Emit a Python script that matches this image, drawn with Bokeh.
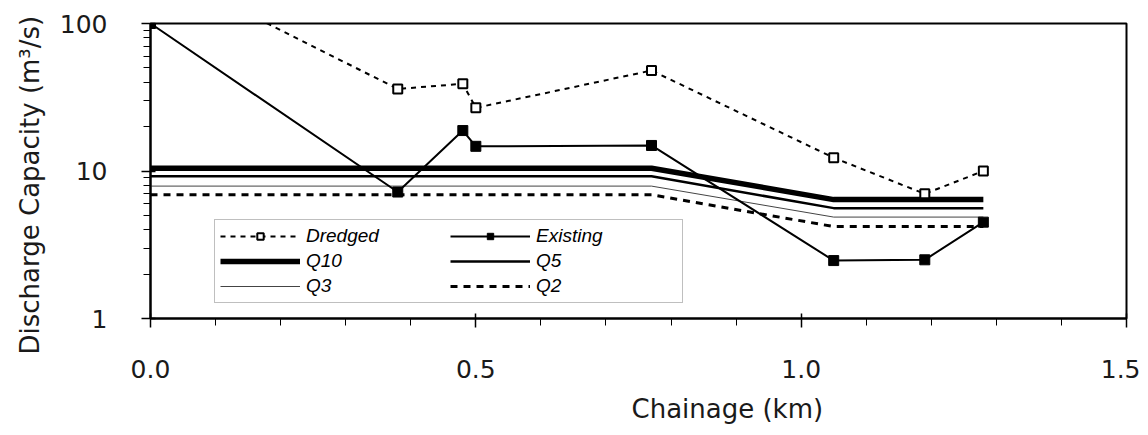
from bokeh.plotting import figure
from bokeh.models import (Legend, LegendItem, FixedTicker, SingleIntervalTicker,
                          NumeralTickFormatter, Range1d, BasicTickFormatter, Title)
from bokeh.embed import file_html
from bokeh.resources import INLINE

# ---- data ----
dredged_x = [0.0, 0.38, 0.48, 0.50, 0.77, 1.05, 1.19, 1.28]
dredged_y = [250, 36.0, 39.0, 26.8, 48.0, 12.3, 7.0, 10.0]

existing_x = [0.0, 0.38, 0.48, 0.50, 0.77, 1.05, 1.19, 1.28]
existing_y = [100, 7.2, 18.8, 14.7, 14.9, 2.47, 2.5, 4.5]

q_x = [0.0, 0.77, 1.05, 1.28]
q10_y = [10.45, 10.45, 6.4, 6.4]
q5_y = [9.2, 9.2, 5.6, 5.6]
q3_y = [7.9, 7.9, 4.87, 4.87]
q2_y = [6.9, 6.9, 4.2, 4.2]

y_ticks = [1, 10, 100]
y_minor = [2, 3, 4, 5, 6, 7, 8, 9, 20, 30, 40, 50, 60, 70, 80, 90]

x_title = "Chainage (km)"
y_title = "Discharge Capacity (m³/s)"

p = figure(width=1140, height=435, output_backend="svg", toolbar_location=None,
           y_axis_type="log", x_range=Range1d(0, 1.5), y_range=Range1d(1, 100),
           min_border_left=148, min_border_top=23, min_border_right=14,
           min_border_bottom=117)
p.background_fill_color = "white"
p.border_fill_color = "white"
p.outline_line_color = "black"
p.outline_line_width = 2
p.xgrid.visible = False
p.ygrid.visible = False

r_q10 = p.line(q_x, q10_y, line_color="black", line_width=5.5)
r_q5 = p.line(q_x, q5_y, line_color="black", line_width=2.5)
r_q3 = p.line(q_x, q3_y, line_color="#444444", line_width=1)
r_q2 = p.line(q_x, q2_y, line_color="black", line_width=3, line_dash="7 6")

r_dl = p.line(dredged_x, dredged_y, line_color="black", line_width=2, line_dash="5 5")
r_ds = p.scatter(dredged_x, dredged_y, marker="square", size=9, line_color="black",
                 line_width=2, fill_color="white")
r_el = p.line(existing_x, existing_y, line_color="black", line_width=2)
r_es = p.scatter(existing_x, existing_y, marker="square", size=10, line_color="black",
                 fill_color="black")

# axes
xa = p.xaxis[0]
xa.ticker = SingleIntervalTicker(interval=0.5, num_minor_ticks=5)
xa.formatter = NumeralTickFormatter(format="0.0")
ya = p.yaxis[0]
ya.ticker = FixedTicker(ticks=y_ticks, minor_ticks=y_minor)
ya.formatter = BasicTickFormatter()

for ax in (xa, ya):
    ax.axis_line_width = 2
    ax.axis_line_color = "black"
    ax.major_tick_line_color = "black"
    ax.minor_tick_line_color = "black"
    ax.major_tick_line_width = 1.5
    ax.minor_tick_line_width = 1
    ax.major_tick_out = 9
    ax.major_tick_in = 5
    ax.minor_tick_out = 7
    ax.minor_tick_in = 0
    ax.major_label_text_font = "DejaVu Sans"
    ax.major_label_text_font_size = "25px"
    ax.major_label_text_color = "#1a1a1a"

xa.major_label_standoff = 32
ya.major_label_standoff = 34

# axis titles (placed off-centre as in the reference)
tx = Title(text=x_title, align="left", offset=481, standoff=23,
           text_font="DejaVu Sans", text_font_size="26px",
           text_font_style="normal", text_color="#1a1a1a")
p.add_layout(tx, "below")
ty = Title(text=y_title, align="left", offset=-36, standoff=24,
           text_font="DejaVu Sans", text_font_size="26px",
           text_font_style="normal", text_color="#1a1a1a")
p.add_layout(ty, "left")

legend = Legend(items=[
    LegendItem(label="Dredged", renderers=[r_dl, r_ds]),
    LegendItem(label="Existing", renderers=[r_el, r_es]),
    LegendItem(label="Q10", renderers=[r_q10]),
    LegendItem(label="Q5", renderers=[r_q5]),
    LegendItem(label="Q3", renderers=[r_q3]),
    LegendItem(label="Q2", renderers=[r_q2]),
], location=(64, 15), orientation="horizontal", ncols=2)
legend.label_text_font = "Liberation Sans"
legend.label_text_font_style = "italic"
legend.label_text_font_size = "19px"
legend.label_text_color = "black"
legend.glyph_width = 80
legend.glyph_height = 16
legend.label_height = 16
legend.label_width = 141
legend.label_standoff = 6
legend.spacing = 3
legend.padding = 5
legend.margin = 0
legend.border_line_color = "#808080"
legend.border_line_width = 1.5
legend.background_fill_color = "white"
legend.background_fill_alpha = 1
p.add_layout(legend)

open("out.html", "w").write(file_html(p, INLINE))
